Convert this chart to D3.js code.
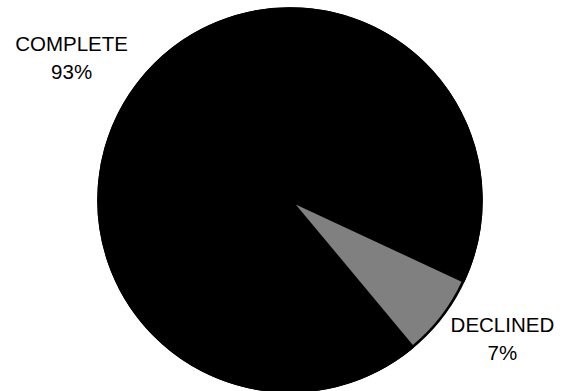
<!DOCTYPE html>
<html>
<head>
<meta charset="utf-8">
<script src="https://cdn.jsdelivr.net/npm/d3@7"></script>
<style>
  html, body { margin: 0; padding: 0; background: #fff; }
  svg { display: block; }
  text { font-family: "Liberation Sans", Arial, sans-serif; font-size: 20.5px; fill: #000; }
</style>
</head>
<body>
<svg></svg>
<script>
/** Chart data */
let categories = ['COMPLETE', 'DECLINED'];
let values = [93, 7];
let percentLabels = ['93%', '7%'];
let colors = ['#000000', '#808080'];

let width = 561;
let height = 391;
let cx = 290;
let cy = 200;
let radius = 192;

let svg = d3.select('svg')
    .attr('width', width)
    .attr('height', height);

/** Pie layout: declined slice ends at roughly 4-5 o'clock */
const startDeg = 140.2;
let pie = d3.pie()
    .sort(null)
    .startAngle(startDeg * Math.PI / 180)
    .endAngle((startDeg + 360) * Math.PI / 180);

let arcs = pie(values);

let arc = d3.arc()
    .innerRadius(0)
    .outerRadius(radius);

// the small slice is pulled out a little from the centre, like the original
let explodedArc = d3.arc()
    .innerRadius(0)
    .outerRadius(radius - 9);
const explode = [0, 7.2];

let labelArc = d3.arc()
    .innerRadius(258)
    .outerRadius(258);

let g = svg.append('g')
    .attr('transform', `translate(${cx}, ${cy})`);

// pie body outline
g.append('circle')
    .attr('r', radius)
    .attr('fill', colors[0])
    .attr('stroke', '#000')
    .attr('stroke-width', 1.5);

const offset = (d, dist) => {
    let a = (d.startAngle + d.endAngle) / 2;
    return [Math.sin(a) * dist, -Math.cos(a) * dist];
};

g.selectAll('path')
    .data(arcs)
    .enter()
    .append('path')
    .attr('d', (d, i) => explode[i] ? explodedArc(d) : arc(d))
    .attr('transform', (d, i) => {
        let o = offset(d, explode[i]);
        return `translate(${o[0]}, ${o[1]})`;
    })
    .attr('fill', (d, i) => colors[i])
    .attr('stroke', (d, i) => explode[i] ? 'none' : '#000')
    .attr('stroke-width', 1.5)
    .attr('stroke-linejoin', 'round');

// small nudges so labels sit where the original put them
const nudge = [[-14, 22], [8, -11]];

let labels = g.selectAll('text')
    .data(arcs)
    .enter()
    .append('text')
    .attr('text-anchor', 'middle')
    .attr('transform', (d, i) => {
        let c = labelArc.centroid(d);
        return `translate(${c[0] + nudge[i][0]}, ${c[1] + nudge[i][1]})`;
    });

labels.append('tspan')
    .attr('x', 0)
    .attr('y', -14)
    .text((d, i) => categories[i]);

labels.append('tspan')
    .attr('x', 0)
    .attr('y', 14)
    .text((d, i) => percentLabels[i]);
</script>
</body>
</html>
